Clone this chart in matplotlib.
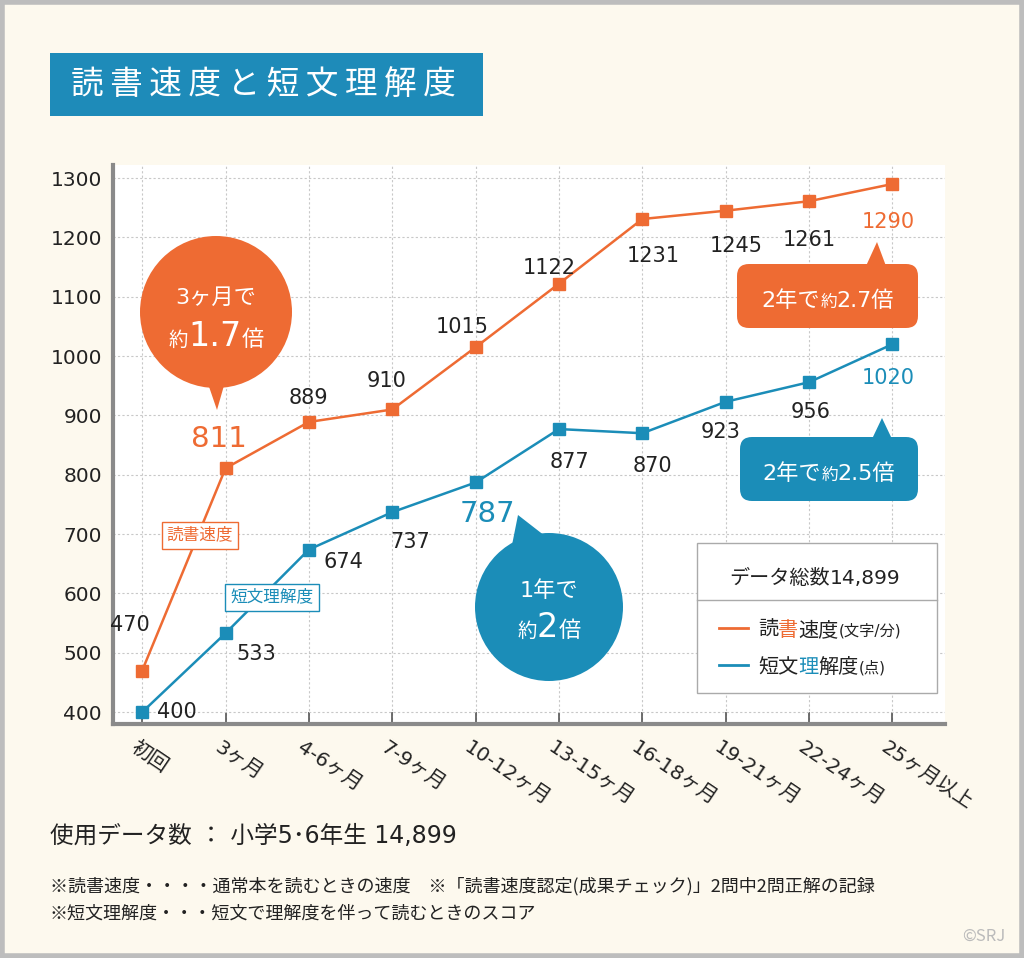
import numpy as np
import matplotlib
matplotlib.use('Agg')
import matplotlib.pyplot as plt
import matplotlib.patches as mpatches
import matplotlib.transforms as mtrans

plt.rcParams['font.family'] = ['Noto Sans CJK JP', 'DejaVu Sans']
NUMFONT = ['DejaVu Sans', 'Noto Sans CJK JP']

#%% data
categories = ['初回', '3ヶ月', '4-6ヶ月', '7-9ヶ月', '10-12ヶ月', '13-15ヶ月',
              '16-18ヶ月', '19-21ヶ月', '22-24ヶ月', '25ヶ月以上']
reading_speed = [470, 811, 889, 910, 1015, 1122, 1231, 1245, 1261, 1290]
comprehension = [400, 533, 674, 737, 787, 877, 870, 923, 956, 1020]
yticks = [400, 500, 600, 700, 800, 900, 1000, 1100, 1200, 1300]

ORANGE = '#EE6B33'
TEAL = '#1B8DB8'
BG = '#FDF9EE'
INK = '#222222'

W, H = 1024, 958
fig = plt.figure(figsize=(W / 100, H / 100), dpi=100, facecolor=BG)
# pixel coords, y measured from top
pix = mtrans.Affine2D().scale(1 / W, -1 / H).translate(0, 1) + fig.transFigure

# outer frame
fig.patches.append(mpatches.Rectangle((2, 2), W - 4, H - 4, transform=pix,
                                      fill=False, ec='#BDBDBD', lw=4))

#%% main axes
ax_l, ax_t, ax_r, ax_b = 113, 165, 945, 724
ax = fig.add_axes([ax_l / W, 1 - ax_b / H, (ax_r - ax_l) / W, (ax_b - ax_t) / H])
ax.set_facecolor('white')
x = np.arange(len(categories))
ax.set_xlim(-0.35, 9.63)
ax.set_ylim(380, 1322)
ax.set_yticks(yticks)
ax.set_xticks(x)
ax.grid(True, color='#C8C8C8', ls=(0, (2, 2)), lw=0.8)
ax.set_axisbelow(True)
for s in ['top', 'right']:
    ax.spines[s].set_visible(False)
for s in ['left', 'bottom']:
    ax.spines[s].set_color('#8A8A8A')
    ax.spines[s].set_linewidth(3)
ax.tick_params(axis='y', length=0, labelsize=14.5, labelcolor=INK, pad=8)
for lab in ax.get_yticklabels():
    lab.set_family(NUMFONT)
ax.tick_params(axis='x', direction='in', length=9, width=1.2, color='#555555',
               labelbottom=False)

ax.plot(x, reading_speed, color=ORANGE, lw=1.8, marker='s', ms=8, zorder=3)
ax.plot(x, comprehension, color=TEAL, lw=1.8, marker='s', ms=8, zorder=3)

# x tick labels, rotated
for i, c in enumerate(categories):
    ax.annotate(c, (i, 380), xytext=(-4, -14), textcoords='offset pixels',
                rotation=-34, rotation_mode='anchor', ha='left', va='top',
                fontsize=14.5, color=INK, family=NUMFONT, annotation_clip=False)

#%% value labels (offsets in pixels)
rs_off = [(-12, 46), (-7, 29), (0, 24), (-6, 28), (-13, 20), (-10, 16),
          (11, -37), (10, -35), (0, -39), (-4, -38)]
cp_off = [(35, 0), (31, -21), (35, -12), (18, -30), (12, -32), (10, -33),
          (10, -33), (-5, -30), (2, -30), (-4, -34)]
for i, v in enumerate(reading_speed):
    size, col = 15, INK
    if i == 1:
        size, col = 21, ORANGE
    elif i == 9:
        col = ORANGE
    ax.annotate(str(v), (i, v), xytext=rs_off[i], textcoords='offset pixels',
                ha='center', va='center', fontsize=size, color=col, family=NUMFONT)
for i, v in enumerate(comprehension):
    size, col = 15, INK
    if i == 4:
        size, col = 21, TEAL
    elif i == 9:
        col = TEAL
    ax.annotate(str(v), (i, v), xytext=cp_off[i], textcoords='offset pixels',
                ha='center', va='center', fontsize=size, color=col, family=NUMFONT)

# series tags
fig.text(200 / W, 1 - 535 / H, '読書速度', fontsize=12, color=ORANGE,
         ha='center', va='center',
         bbox=dict(boxstyle='square,pad=0.3', fc='white', ec=ORANGE, lw=1))
fig.text(272 / W, 1 - 597 / H, '短文理解度', fontsize=12, color=TEAL,
         ha='center', va='center',
         bbox=dict(boxstyle='square,pad=0.3', fc='white', ec=TEAL, lw=1))

#%% helper for text with mixed sizes
renderer = fig.canvas.get_renderer()


def rich_text(xp, yp, parts, ha='center'):
    texts, widths = [], []
    for s, size, col in parts:
        t = fig.text(0, 0, s, fontsize=size, color=col, va='baseline',
                     ha='left', transform=pix, zorder=10, family=NUMFONT)
        widths.append(t.get_window_extent(renderer).width)
        texts.append(t)
    total = sum(widths)
    x0 = xp - total / 2 if ha == 'center' else xp
    for t, w in zip(texts, widths):
        t.set_position((x0, yp))
        x0 += w


# orange bubble
fig.patches.append(mpatches.Circle((216, 312), 76, transform=pix, fc=ORANGE,
                                   ec='none', zorder=5))
fig.patches.append(mpatches.Polygon([(205, 375), (227, 375), (217, 410)],
                                    transform=pix, fc=ORANGE, ec='none', zorder=5))
rich_text(216, 304, [('3ヶ月で', 16, 'white')])
rich_text(216, 346, [('約', 14, 'white'), ('1.7', 24, 'white'), ('倍', 16, 'white')])

# teal bubble
fig.patches.append(mpatches.Circle((549, 607), 74, transform=pix, fc=TEAL,
                                   ec='none', zorder=5))
fig.patches.append(mpatches.Polygon([(518, 515), (511, 550), (545, 536)],
                                    transform=pix, fc=TEAL, ec='none', zorder=5))
rich_text(549, 597, [('1年で', 16, 'white')])
rich_text(549, 637, [('約', 14, 'white'), ('2', 24, 'white'), ('倍', 16, 'white')])

# rounded callouts
fig.patches.append(mpatches.FancyBboxPatch((737, 264), 181, 64, transform=pix,
                                           boxstyle='round,pad=0,rounding_size=12',
                                           fc=ORANGE, ec='none', zorder=5))
fig.patches.append(mpatches.Polygon([(866, 266), (886, 266), (877, 242)],
                                    transform=pix, fc=ORANGE, ec='none', zorder=5))
rich_text(828, 307, [('2年で', 16, 'white'), ('約', 12, 'white'), ('2.7倍', 16, 'white')])

fig.patches.append(mpatches.FancyBboxPatch((740, 437), 178, 64, transform=pix,
                                           boxstyle='round,pad=0,rounding_size=12',
                                           fc=TEAL, ec='none', zorder=5))
fig.patches.append(mpatches.Polygon([(872, 439), (892, 439), (882, 418)],
                                    transform=pix, fc=TEAL, ec='none', zorder=5))
rich_text(829, 480, [('2年で', 16, 'white'), ('約', 12, 'white'), ('2.5倍', 16, 'white')])

#%% legend box
fig.patches.append(mpatches.Rectangle((697, 543), 240, 150, transform=pix,
                                      fc='white', ec='#AAAAAA', lw=1, zorder=6))
fig.lines.append(plt.Line2D([697, 937], [600, 600], transform=pix,
                            color='#AAAAAA', lw=1, zorder=7))
rich_text(815, 584, [('データ総数', 14.5, INK), ('14,899', 14.5, INK)])
fig.lines.append(plt.Line2D([719, 748], [628, 628], transform=pix,
                            color=ORANGE, lw=2, zorder=7))
fig.lines.append(plt.Line2D([719, 748], [665, 665], transform=pix,
                            color=TEAL, lw=2, zorder=7))
rich_text(758, 636, [('読', 14.5, INK), ('書', 14.5, ORANGE), ('速度', 14.5, INK),
                     ('(文字/分)', 11, INK)], ha='left')
rich_text(758, 673, [('短文', 14.5, INK), ('理', 14.5, TEAL), ('解度', 14.5, INK),
                     ('(点)', 11, INK)], ha='left')

#%% title
fig.patches.append(mpatches.Rectangle((50, 53), 433, 63, transform=pix,
                                      fc='#1E8BB9', ec='none'))
fig.text(71 / W, 1 - 85 / H, '\u2009'.join('読書速度と短文理解度'),
         fontsize=23.5, color='white', ha='left', va='center')

#%% footnotes
fig.text(50 / W, 1 - 836 / H, '使用データ数 ： 小学5･6年生 14,899', fontsize=17,
         color=INK, ha='left', va='center', family=NUMFONT)
fig.text(50 / W, 1 - 886 / H,
         '※読書速度・・・・通常本を読むときの速度　※「読書速度認定(成果チェック)」2問中2問正解の記録',
         fontsize=13, color=INK, ha='left', va='center')
fig.text(50 / W, 1 - 914 / H, '※短文理解度・・・短文で理解度を伴って読むときのスコア',
         fontsize=13, color=INK, ha='left', va='center')
fig.text(1005 / W, 1 - 936 / H, '©SRJ', fontsize=12, color='#BBBBBB',
         ha='right', va='center')

fig.savefig('out.png', dpi=100, facecolor=BG)
